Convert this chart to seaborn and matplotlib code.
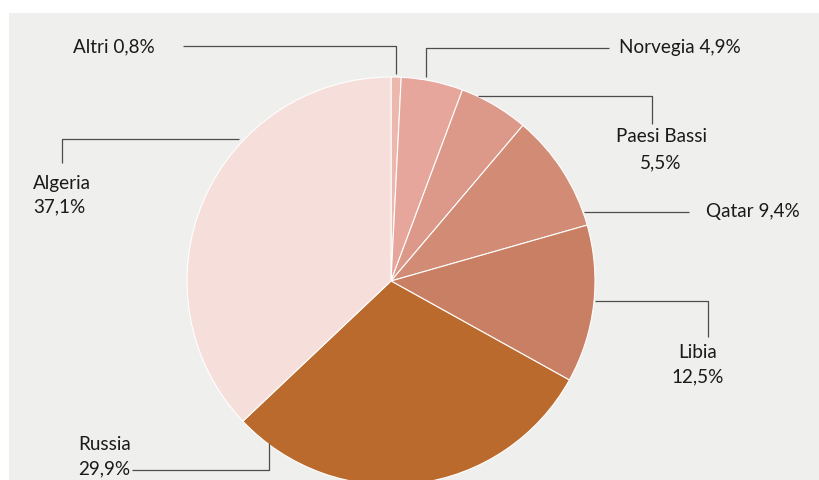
import numpy as np
import matplotlib
matplotlib.use("Agg")
import matplotlib.pyplot as plt
from matplotlib.patches import Rectangle
import seaborn as sns

# Import shares of natural gas by supplier country (%)
countries = ["Altri", "Norvegia", "Paesi Bassi", "Qatar", "Libia", "Russia", "Algeria"]
shares = [0.8, 4.9, 5.5, 9.4, 12.5, 29.9, 37.1]
slice_colors = ["#ecb7ad", "#e6a69b", "#dc9989", "#d28b75", "#c97f63", "#bb6a2e", "#f6dfda"]

sns.set_theme(style="white")
plt.rcParams["font.family"] = ["Lato", "DejaVu Sans"]

W, H = 819, 480
fig = plt.figure(figsize=(W / 100, H / 100), dpi=100)
fig.patch.set_facecolor("white")
ax = fig.add_axes([0, 0, 1, 1])

# page background
ax.add_patch(Rectangle((9, 13), W - 9, H - 13, facecolor="#efefed", edgecolor="none", zorder=0))

cx, cy, r = 391, 281, 204
# y axis runs downward, so counterclock=True draws visually clockwise from the top
wedges, _ = ax.pie(shares, colors=slice_colors, startangle=-90, counterclock=True,
                   center=(cx, cy), radius=r,
                   wedgeprops=dict(edgecolor="white", linewidth=0.8))
for w in wedges:
    w.set_zorder(2)

ax.set_xlim(0, W)
ax.set_ylim(H, 0)
ax.set_aspect("equal")
ax.axis("off")


def edge_y(x, gap=3):
    return cy - np.sqrt(r ** 2 - (x - cx) ** 2) - gap


def edge_x(y, side, gap=0):
    return cx + side * (np.sqrt(r ** 2 - (y - cy) ** 2) + gap)


def fmt(v):
    return f"{v:.1f}".replace(".", ",") + "%"


val = dict(zip(countries, shares))
line_kw = dict(color="#4d4d4d", lw=0.9, zorder=3, solid_capstyle="butt")
txt_kw = dict(fontsize=13.6, color="#1a1a1a", zorder=4)

# Altri
ax.plot([183, 396, 396], [46, 46, edge_y(396)], **line_kw)
ax.text(73, 47, f"Altri {fmt(val['Altri'])}", ha="left", va="center", **txt_kw)

# Norvegia
ax.plot([609, 426, 426], [48, 48, edge_y(426)], **line_kw)
ax.text(619, 47, f"Norvegia {fmt(val['Norvegia'])}", ha="left", va="center", **txt_kw)

# Paesi Bassi
ax.plot([edge_x(96, 1, 1), 652, 652], [96, 96, 124], **line_kw)
ax.text(661, 137, "Paesi Bassi", ha="center", va="center", **txt_kw)
ax.text(661, 163, fmt(val["Paesi Bassi"]), ha="center", va="center", **txt_kw)

# Qatar
ax.plot([edge_x(212, 1, 1), 689], [212, 212], **line_kw)
ax.text(706, 212, f"Qatar {fmt(val['Qatar'])}", ha="left", va="center", **txt_kw)

# Libia
ax.plot([edge_x(301, 1, 1), 708, 708], [301, 301, 337], **line_kw)
ax.text(698, 352, "Libia", ha="center", va="center", **txt_kw)
ax.text(698, 377, fmt(val["Libia"]), ha="center", va="center", **txt_kw)

# Russia
ax.plot([132, 269, 269], [470, 470, 443], **line_kw)
ax.text(78, 445, "Russia", ha="left", va="center", **txt_kw)
ax.text(78, 469, fmt(val["Russia"]), ha="left", va="center", **txt_kw)

# Algeria
ax.plot([62, 62, edge_x(139, -1, 6)], [163, 139, 139], **line_kw)
ax.text(33, 183, "Algeria", ha="left", va="center", **txt_kw)
ax.text(33, 207, fmt(val["Algeria"]), ha="left", va="center", **txt_kw)

fig.savefig("out.png", dpi=100, facecolor=fig.get_facecolor())
